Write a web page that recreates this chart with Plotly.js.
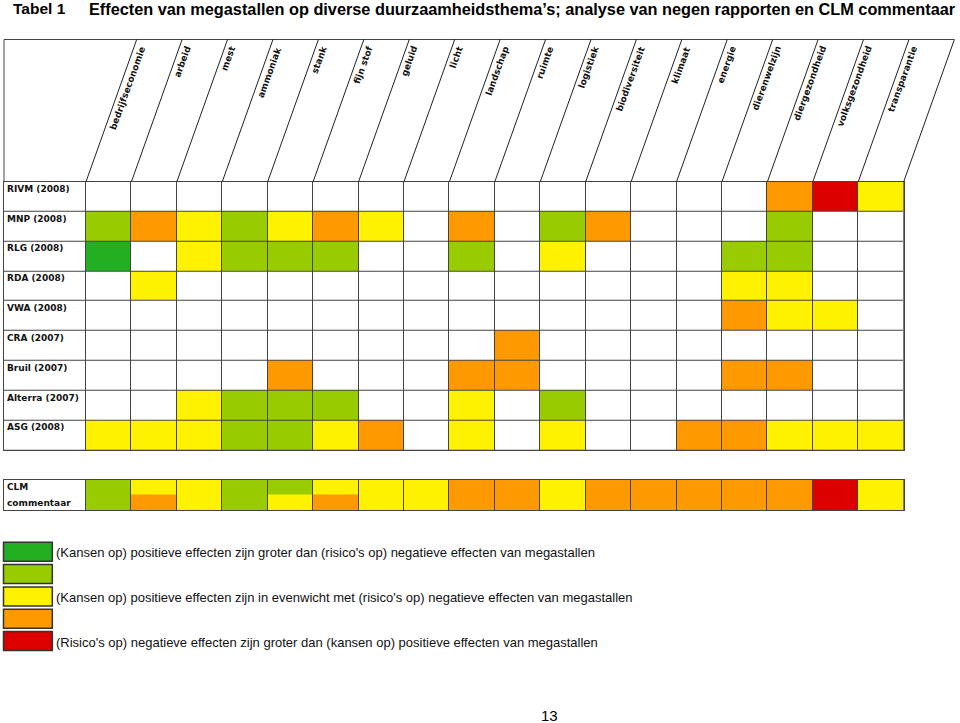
<!DOCTYPE html>
<html><head><meta charset="utf-8">
<script src="https://cdn.plot.ly/plotly-3.0.1.min.js"></script>
<style>html,body{margin:0;padding:0;background:#fff}</style>
</head><body><div id="chart" style="width:960px;height:723px"></div>
<script>
// ---------- data ----------
const themes = ['bedrijfseconomie','arbeid','mest','ammoniak','stank','fijn stof','geluid','licht','landschap','ruimte','logistiek','biodiversiteit','klimaat','energie','dierenwelzijn','diergezondheid','volksgezondheid','transparantie'];
const reports = ['RIVM (2008)','MNP (2008)','RLG (2008)','RDA (2008)','VWA (2008)','CRA (2007)','Bruil (2007)','Alterra (2007)','ASG (2008)'];
// codes: '' none, 'DG' dark green, 'LG' light green, 'Y' yellow, 'O' orange, 'R' red
const rivm    = ['','','','','','','','','','','','','','','','O','R','Y'];
const mnp     = ['LG','O','Y','LG','Y','O','Y','','O','','LG','O','','','','LG','',''];
const rlg     = ['DG','','Y','LG','LG','LG','','','LG','','Y','','','','LG','LG','',''];
const rda     = ['','Y','','','','','','','','','','','','','Y','Y','',''];
const vwa     = ['','','','','','','','','','','','','','','O','Y','Y',''];
const cra     = ['','','','','','','','','','O','','','','','','','',''];
const bruil   = ['','','','','O','','','','O','O','','','','','O','O','',''];
const alterra = ['','','Y','LG','LG','LG','','','Y','','LG','','','','','','',''];
const asg     = ['Y','Y','Y','LG','LG','Y','O','','Y','','Y','','','O','O','Y','Y','Y'];
const reportRows = [rivm, mnp, rlg, rda, vwa, cra, bruil, alterra, asg];
const clmLabel = ['CLM','commentaar'];
const clmTop    = ['LG','Y','Y','LG','LG','Y','Y','Y','O','O','Y','O','O','O','O','O','R','Y'];
const clmBottom = ['LG','O','Y','LG','Y','O','Y','Y','O','O','Y','O','O','O','O','O','R','Y'];
const legendCodes = ['DG','LG','Y','O','R'];
const legendTexts = ["(Kansen op) positieve effecten zijn groter dan (risico's op) negatieve effecten van megastallen", '',
  "(Kansen op) positieve effecten zijn in evenwicht met (risico's op) negatieve effecten van megastallen", '',
  "(Risico's op) negatieve effecten zijn groter dan (kansen op) positieve effecten van megastallen"];
const tableNo = 'Tabel 1';
const titleText = 'Effecten van megastallen op diverse duurzaamheidsthema’s; analyse van negen rapporten en CLM commentaar';
const pageNumber = '13';

// ---------- styles ----------
const codeOrder = ['', 'DG', 'LG', 'Y', 'O', 'R'];
const codeColors = ['#ffffff', '#22b022', '#99cc00', '#fff200', '#ff9900', '#dd0000'];
const W = 960, H = 723;
const gridLeft = 4, labelRight = 86, gridRight = 903.7;
const headerTop = 39.5, gridTop = 181.7, gridBottom = 450.3;
const clmTopPx = 479.5, clmBottomPx = 510;
const slantPx = 50.7;
const colW = (gridRight - labelRight) / themes.length;
const labelW = (labelRight - gridLeft) / colW;
const px = v => v / W, py = v => 1 - v / H;
const colPx = k => labelRight + k * colW;
const lineCol = '#444';
const boldFont = {family: 'DejaVu Sans', size: 9, color: '#111', weight: 'bold'};

const lvl = c => codeOrder.indexOf(c);
const colorscale = [];
codeColors.forEach((c, i) => { colorscale.push([i / codeColors.length, c]); colorscale.push([(i + 1) / codeColors.length, c]); });

const xEdges = [-labelW].concat(themes.map((t, i) => i)).concat([themes.length]);
const yEdges = reports.map((r, i) => i).concat([reports.length]);
const zMain = reportRows.map(row => [0].concat(row.map(lvl)));
const zClm = [[0].concat(clmTop.map(lvl)), [0].concat(clmBottom.map(lvl))];

const common = {type: 'heatmap', colorscale: colorscale, zmin: -0.5, zmax: 5.5, showscale: false, hoverinfo: 'skip', xgap: 1};
const traces = [
  Object.assign({}, common, {x: xEdges, y: yEdges, z: zMain, ygap: 1, xaxis: 'x', yaxis: 'y'}),
  Object.assign({}, common, {x: xEdges, y: [0, 0.5, 1], z: zClm, ygap: 0, xaxis: 'x', yaxis: 'y2'})
];

const shapes = [];
const annotations = [];
// header box
shapes.push({type: 'line', xref: 'paper', yref: 'paper', x0: px(gridLeft), x1: px(colPx(themes.length) + slantPx), y0: py(headerTop), y1: py(headerTop), line: {color: lineCol, width: 1}});
shapes.push({type: 'line', xref: 'paper', yref: 'paper', x0: px(gridLeft), x1: px(gridLeft), y0: py(headerTop), y1: py(gridTop), line: {color: lineCol, width: 1}});
for (let k = 0; k <= themes.length; k++) {
  shapes.push({type: 'line', xref: 'paper', yref: 'paper', x0: px(colPx(k)), x1: px(colPx(k) + slantPx), y0: py(gridTop), y1: py(headerTop), line: {color: '#222', width: 1}});
}
themes.forEach((t, i) => {
  annotations.push({text: t, xref: 'paper', yref: 'paper', x: px(colPx(i) + slantPx + 13), y: py(42), xanchor: 'right', yanchor: 'top',
    textangle: -70, showarrow: false, font: boldFont});
});
reports.forEach((r, i) => {
  annotations.push({text: r, xref: 'paper', yref: 'y', x: px(gridLeft), y: i, xanchor: 'left', yanchor: 'top', xshift: 1,
    showarrow: false, font: boldFont});
});
annotations.push({text: clmLabel[0], xref: 'paper', yref: 'y2', x: px(gridLeft), y: 0, xanchor: 'left', yanchor: 'top', xshift: 1, showarrow: false, font: boldFont});
annotations.push({text: clmLabel[1], xref: 'paper', yref: 'y2', x: px(gridLeft), y: 1, xanchor: 'left', yanchor: 'bottom', xshift: 1, showarrow: false, font: boldFont});
// legend
const legTop = 542.3, legStep = 22.3, legH = 19, legX0 = 3.5, legX1 = 52.3;
legendCodes.forEach((c, k) => {
  const t = legTop + k * legStep;
  shapes.push({type: 'rect', xref: 'paper', yref: 'paper', x0: px(legX0), x1: px(legX1), y0: py(t), y1: py(t + legH),
    fillcolor: codeColors[lvl(c)], line: {color: '#333', width: 1.5}});
  if (legendTexts[k]) annotations.push({text: legendTexts[k], xref: 'paper', yref: 'paper', x: px(54), y: py(t + legH / 2 + 1), xanchor: 'left', yanchor: 'middle',
    showarrow: false, font: {family: 'Liberation Sans', size: 13, color: '#111'}});
});
// titles
annotations.push({text: '<b>' + tableNo + '</b>', xref: 'paper', yref: 'paper', x: px(11), y: py(9), xanchor: 'left', yanchor: 'middle', showarrow: false, font: {family: 'Liberation Sans', size: 15.5, color: '#000'}});
annotations.push({text: '<b>' + titleText + '</b>', xref: 'paper', yref: 'paper', x: px(87), y: py(9), xanchor: 'left', yanchor: 'middle', showarrow: false, font: {family: 'Liberation Sans', size: 16.3, color: '#000'}});
annotations.push({text: pageNumber, xref: 'paper', yref: 'paper', x: px(549), y: py(715), xanchor: 'center', yanchor: 'middle', showarrow: false, font: {family: 'Liberation Sans', size: 15, color: '#000'}});

const axStyle = {showgrid: false, zeroline: false, showticklabels: false, ticks: '', showline: true, linecolor: lineCol, linewidth: 1, fixedrange: true};
const layout = {
  width: W, height: H, margin: {l: 0, r: 0, t: 0, b: 0}, paper_bgcolor: '#fff', plot_bgcolor: '#444', showlegend: false,
  xaxis: Object.assign({}, axStyle, {domain: [px(gridLeft), px(gridRight)], range: [-labelW, themes.length], mirror: 'all', anchor: 'y'}),
  yaxis: Object.assign({}, axStyle, {domain: [py(gridBottom), py(gridTop)], range: [reports.length, 0], mirror: true, anchor: 'x'}),
  yaxis2: Object.assign({}, axStyle, {domain: [py(clmBottomPx), py(clmTopPx)], range: [1, 0], mirror: true, anchor: 'x'}),
  shapes: shapes, annotations: annotations
};
Plotly.newPlot('chart', traces, layout, {staticPlot: true, displayModeBar: false});
</script></body></html>
